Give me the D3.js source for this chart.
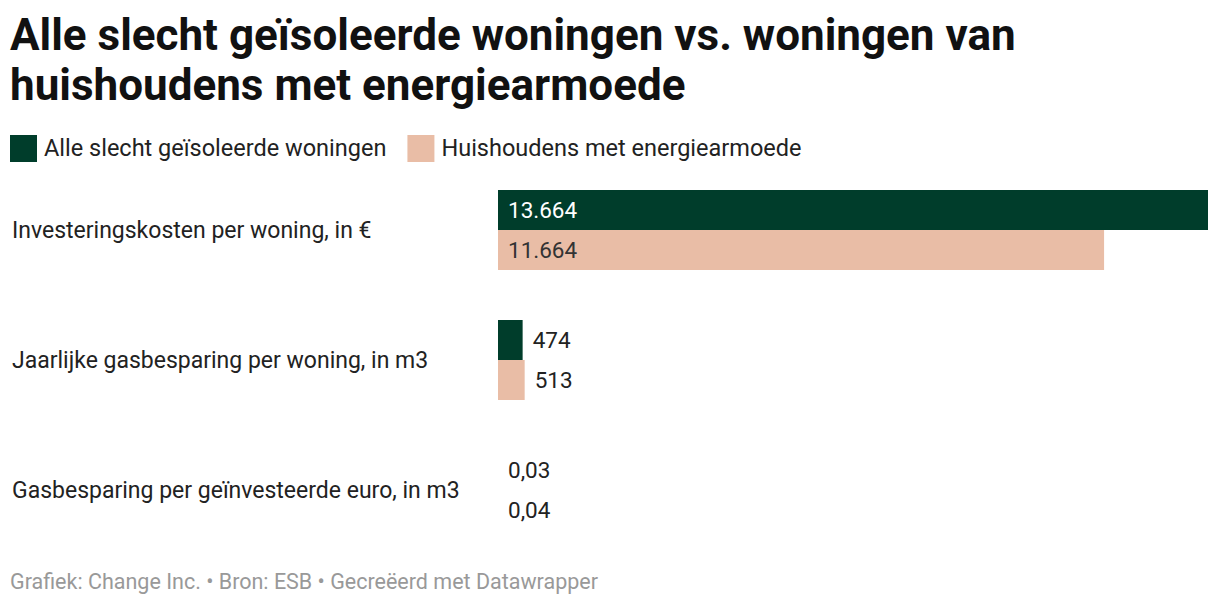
<!DOCTYPE html>
<html><head><meta charset="utf-8">
<script src="https://cdn.jsdelivr.net/npm/d3@7"></script>
<style>body{margin:0;background:#fff;font-family:Roboto,sans-serif}</style>
</head><body><svg id="c" width="1220" height="606"></svg>
<script>
const categories=["Investeringskosten per woning, in €","Jaarlijke gasbesparing per woning, in m3","Gasbesparing per geïnvesteerde euro, in m3"];
const seriesNames=["Alle slecht geïsoleerde woningen","Huishoudens met energiearmoede"];
const allePoor=[13664,474,0.03];
const energyPoor=[11664,513,0.04];
const labelsA=["13.664","474","0,03"];
const labelsB=["11.664","513","0,04"];
const colors=["#003d2b","#e9bda6"];
const textIn=["#fff","#333"];

const svg=d3.select("#c");
svg.append("text").attr("x",10).attr("y",50).attr("font-size",44).attr("font-weight",700).attr("fill","#111").text("Alle slecht geïsoleerde woningen vs. woningen van");
svg.append("text").attr("x",10).attr("y",100).attr("font-size",44).attr("font-weight",700).attr("fill","#111").text("huishoudens met energiearmoede");
let lx=10;
seriesNames.forEach((n,i)=>{
  svg.append("rect").attr("x",lx).attr("y",135).attr("width",27).attr("height",27).attr("fill",colors[i]);
  const t=svg.append("text").attr("x",lx+34).attr("y",156).attr("font-size",23.5).attr("fill","#222").text(n);
  lx+=34+t.node().getComputedTextLength()+21;
});
const x=d3.scaleLinear().domain([0,13664]).range([498,1208]);
const y=d3.scaleBand().domain(categories).range([190,530]).paddingInner(50/130).paddingOuter(0);
const bh=40;
categories.forEach((c,i)=>{
  const y0=y(c);
  svg.append("text").attr("x",12).attr("y",y0+bh+8).attr("font-size",23).attr("fill","#222").text(c);
  [[allePoor,labelsA],[energyPoor,labelsB]].forEach(([vals,labs],s)=>{
    const yy=y0+s*bh, w=x(vals[i])-x(0);
    svg.append("rect").attr("x",x(0)).attr("y",yy).attr("width",w).attr("height",bh).attr("fill",colors[s]);
    const inside=w>100;
    svg.append("text").attr("x",inside?x(0)+10:x(vals[i])+10).attr("y",yy+bh/2+8)
      .attr("font-size",22.5).attr("fill",inside?textIn[s]:"#222").text(labs[i]);
  });
});
svg.append("text").attr("x",10).attr("y",589).attr("font-size",21.5).attr("fill","#999").text("Grafiek: Change Inc. • Bron: ESB • Gecreëerd met Datawrapper");
</script></body></html>
